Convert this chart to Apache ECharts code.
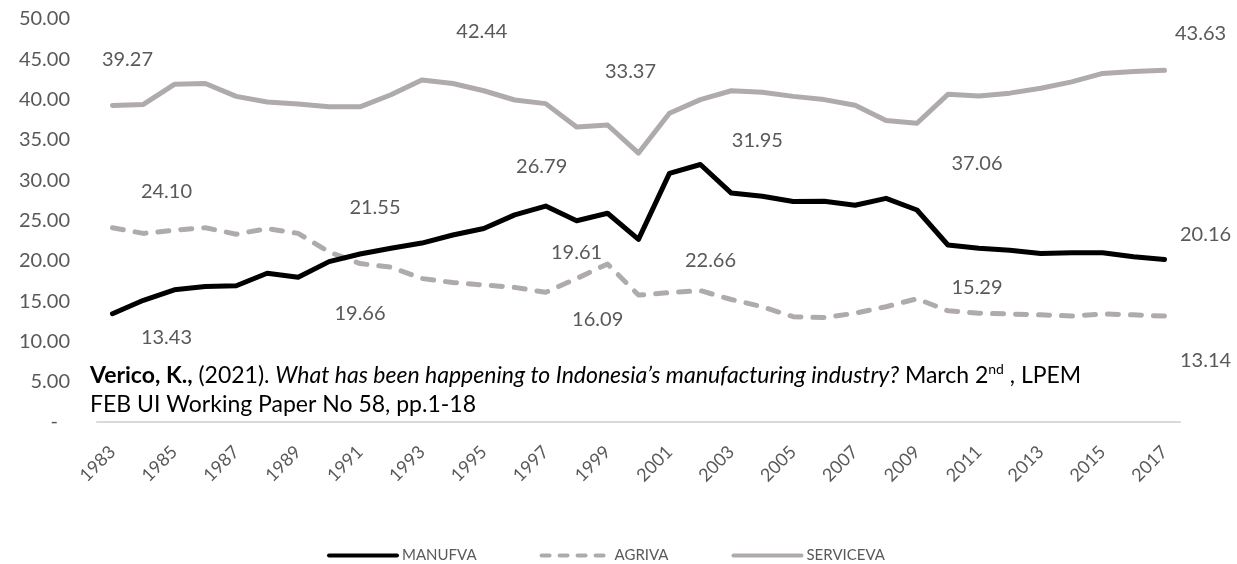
<!DOCTYPE html>
<html>
<head>
<meta charset="utf-8">
<script src="https://cdn.jsdelivr.net/npm/echarts@6/dist/echarts.min.js"></script>
<style>
  html, body { margin: 0; padding: 0; background: #fff; }
  #chart { width: 1237px; height: 564px; }
</style>
</head>
<body>
<div id="chart"></div>
<script>
// Value added shares by sector, Indonesia, 1983-2017 (% of GDP)
const years = [
  '1983','1984','1985','1986','1987','1988','1989','1990','1991','1992',
  '1993','1994','1995','1996','1997','1998','1999','2000','2001','2002',
  '2003','2004','2005','2006','2007','2008','2009','2010','2011','2012',
  '2013','2014','2015','2016','2017'
];

const manufva = [
  13.43, 15.10, 16.40, 16.80, 16.90, 18.45, 17.95, 19.90, 20.85, 21.55,
  22.20, 23.20, 24.00, 25.70, 26.79, 24.97, 25.90, 22.66, 30.85, 31.95,
  28.40, 28.00, 27.35, 27.40, 26.90, 27.75, 26.30, 21.96, 21.55, 21.30,
  20.90, 21.00, 21.00, 20.50, 20.16
];

const agriva = [
  24.10, 23.40, 23.80, 24.10, 23.30, 24.00, 23.40, 21.10, 19.66, 19.20,
  17.80, 17.30, 17.00, 16.70, 16.09, 17.80, 19.61, 15.75, 16.05, 16.30,
  15.20, 14.30, 13.06, 12.95, 13.50, 14.30, 15.29, 13.80, 13.50, 13.40,
  13.30, 13.15, 13.40, 13.30, 13.14
];

const serviceva = [
  39.27, 39.40, 41.90, 42.00, 40.40, 39.70, 39.45, 39.10, 39.10, 40.60,
  42.44, 42.00, 41.10, 39.95, 39.50, 36.60, 36.85, 33.37, 38.30, 40.00,
  41.10, 40.90, 40.40, 40.00, 39.30, 37.40, 37.06, 40.65, 40.45, 40.80,
  41.40, 42.20, 43.25, 43.50, 43.63
];

const yTicks = { min: 0, max: 50, step: 5 };

// Which points carry a value label, and where the label sits relative to the point
const labelLayout = {
  MANUFVA:   [[0, 54, 24], [9, -16, -41], [14, -4, -40], [17, 72, 21], [19, 57, -24], [34, 41, -25]],
  AGRIVA:    [[0, 54, -36], [8, 0, 50], [14, 52, 27], [16, -31, -11], [26, 60, -11], [34, 41, 44]],
  SERVICEVA: [[0, 15, -46], [10, 60, -48], [17, -8, -81], [26, 60, 40], [34, 36, -37]]
};

const FONT = 'Lato, "Open Sans", sans-serif';
const GREY_TEXT = '#595959';

function valueLabels(name, values) {
  return {
    symbol: 'circle',
    symbolSize: 1,
    itemStyle: { color: 'rgba(0,0,0,0)' },
    label: {
      show: true,
      position: 'inside',
      color: GREY_TEXT,
      fontSize: 20,
      fontFamily: FONT,
      textBorderWidth: 0,
      formatter: p => Number(p.value).toFixed(2)
    },
    data: labelLayout[name].map(([i, dx, dy]) => ({
      coord: [i, values[i]],
      value: values[i],
      label: { offset: [dx, dy] }
    }))
  };
}

function lineSeries(name, values, color, type) {
  return {
    name: name,
    type: 'line',
    data: values,
    symbol: 'none',
    smooth: false,
    lineStyle: { color: color, width: 5, type: type, cap: 'round', join: 'round' },
    itemStyle: { color: color },
    emphasis: { disabled: true },
    markPoint: valueLabels(name, values),
    z: name === 'MANUFVA' ? 4 : 3
  };
}

const chart = echarts.init(document.getElementById('chart'), null, { renderer: 'canvas' });

chart.setOption({
  animation: false,
  backgroundColor: '#ffffff',
  grid: { left: 97, right: 57, top: 19, bottom: 142, containLabel: false },
  xAxis: {
    type: 'category',
    data: years,
    boundaryGap: true,
    axisLine: { show: true, lineStyle: { color: '#d9d9d9', width: 2 } },
    axisTick: { show: false },
    axisLabel: {
      interval: 1,
      rotate: 45,
      margin: 27,
      color: GREY_TEXT,
      fontSize: 18,
      fontFamily: FONT
    },
    splitLine: { show: false }
  },
  yAxis: {
    type: 'value',
    min: yTicks.min,
    max: yTicks.max,
    interval: yTicks.step,
    axisLine: { show: false },
    axisTick: { show: false },
    splitLine: { show: false },
    axisLabel: {
      margin: 27,
      color: GREY_TEXT,
      fontSize: 20,
      fontFamily: FONT,
      formatter: v => (v === 0 ? '{z|-}' : v.toFixed(2)),
      rich: { z: { fontSize: 20, fontFamily: FONT, color: GREY_TEXT, padding: [0, 12, 0, 0] } }
    }
  },
  legend: {
    left: 322,
    top: 543,
    itemWidth: 68,
    itemHeight: 14,
    itemGap: 63,
    itemStyle: { opacity: 0, borderWidth: 0 },
    lineStyle: { width: 4 },
    textStyle: { color: GREY_TEXT, fontSize: 15, fontFamily: FONT },
    data: [
      { name: 'MANUFVA' },
      { name: 'AGRIVA', lineStyle: { type: [8, 10], cap: 'round' } },
      { name: 'SERVICEVA' }
    ]
  },
  graphic: [
    {
      type: 'text',
      left: 90,
      top: 362,
      z: 10,
      style: {
        text: '{b|Verico, K.,}{r| (2021). }{i|What has been happening to Indonesia’s manufacturing industry?}{r| March 2}{s|nd}{r| , LPEM}',
        fill: '#000',
        font: '23px ' + FONT,
        rich: {
          b: { fontSize: 23, fontFamily: FONT, fontWeight: 'bold', fill: '#000', lineHeight: 27 },
          r: { fontSize: 23, fontFamily: FONT, fill: '#000', lineHeight: 27 },
          i: { fontSize: 23, fontFamily: FONT, fontStyle: 'italic', fill: '#000', lineHeight: 27 },
          s: { fontSize: 14, fontFamily: FONT, fill: '#000', lineHeight: 15, verticalAlign: 'top' }
        }
      }
    },
    {
      type: 'text',
      left: 90,
      top: 393,
      z: 10,
      style: {
        text: 'FEB UI Working Paper No 58, pp.1-18',
        fill: '#000',
        font: '23px ' + FONT
      }
    }
  ],
  series: [
    lineSeries('MANUFVA', manufva, '#000000', 'solid'),
    lineSeries('AGRIVA', agriva, '#afabab', [11, 12]),
    lineSeries('SERVICEVA', serviceva, '#afabab', 'solid')
  ]
});
</script>
</body>
</html>
